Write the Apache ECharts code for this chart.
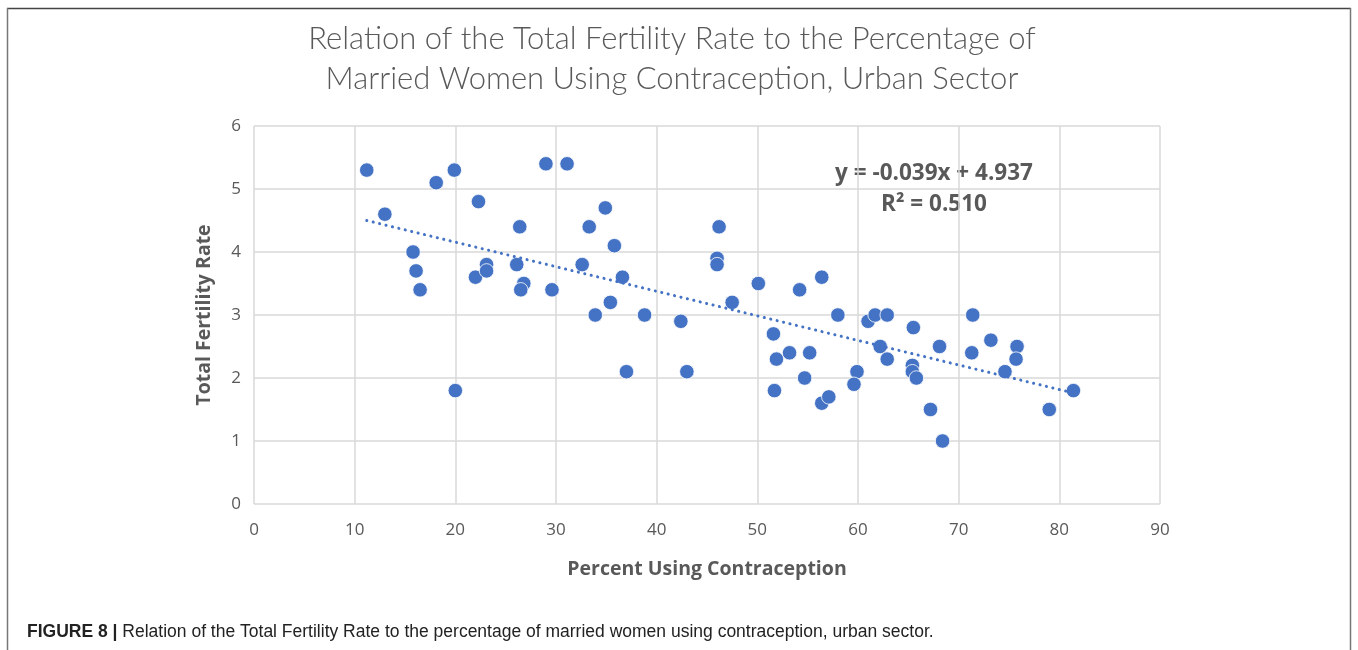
<!DOCTYPE html>
<html>
<head>
<meta charset="utf-8">
<script src="https://cdn.jsdelivr.net/npm/echarts@6/dist/echarts.min.js"></script>
<style>
html,body{margin:0;padding:0;background:#fff;}
#c{width:1358px;height:650px;}
</style>
</head>
<body>
<div id="c"></div>
<script>
// Data (x: percent using contraception, y: total fertility rate)
const contraceptionPct = [
  11.2, 13.0, 15.8, 16.1, 16.5, 18.1, 19.9, 20.0, 22.3, 22.0,
  23.1, 23.1, 26.4, 26.1, 26.8, 26.5, 29.0, 31.1, 29.6, 34.9,
  33.3, 32.6, 35.8, 36.6, 35.4, 33.9, 38.8, 37.0, 42.4, 43.0,
  46.2, 46.0, 46.0, 47.5, 50.1, 51.6, 51.9, 51.7, 53.2, 54.2,
  55.2, 54.7, 56.4, 56.4, 57.1, 58.0, 59.9, 59.6, 61.0, 61.7,
  62.9, 62.2, 62.9, 65.5, 65.4, 65.4, 65.8, 67.2, 68.4, 68.1,
  71.4, 71.3, 73.2, 75.8, 75.7, 74.6, 79.0, 81.4
];
const fertilityRate = [
  5.3, 4.6, 4.0, 3.7, 3.4, 5.1, 5.3, 1.8, 4.8, 3.6,
  3.8, 3.7, 4.4, 3.8, 3.5, 3.4, 5.4, 5.4, 3.4, 4.7,
  4.4, 3.8, 4.1, 3.6, 3.2, 3.0, 3.0, 2.1, 2.9, 2.1,
  4.4, 3.9, 3.8, 3.2, 3.5, 2.7, 2.3, 1.8, 2.4, 3.4,
  2.4, 2.0, 3.6, 1.6, 1.7, 3.0, 2.1, 1.9, 2.9, 3.0,
  3.0, 2.5, 2.3, 2.8, 2.2, 2.1, 2.0, 1.5, 1.0, 2.5,
  3.0, 2.4, 2.6, 2.5, 2.3, 2.1, 1.5, 1.8
];
const xTicks = [0, 10, 20, 30, 40, 50, 60, 70, 80, 90];
const yTicks = [0, 1, 2, 3, 4, 5, 6];
const trendSlope = -0.039;
const trendIntercept = 4.937;
const trendRange = [11.2, 81.4];
const equationText = 'y = -0.039x + 4.937';
const r2Text = 'R² = 0.510';

const points = contraceptionPct.map((x, i) => [x, fertilityRate[i]]);
const trend = trendRange.map(x => [x, trendSlope * x + trendIntercept]);

const grey = '#595959';
const chart = echarts.init(document.getElementById('c'));
chart.setOption({
  animation: false,
  backgroundColor: '#fff',
  title: [
    {
      text: 'Relation of the Total Fertility Rate to the Percentage of\nMarried Women Using Contraception, Urban Sector',
      left: 667, top: 14, textAlign: 'center',
      textStyle: { fontFamily: 'Lato', fontWeight: 300, fontSize: 31, color: grey, lineHeight: 40 }
    },
    {
      text: '{b|FIGURE 8 |} Relation of the Total Fertility Rate to the percentage of married women using contraception, urban sector.',
      left: 22, top: 618,
      textStyle: {
        fontFamily: 'Liberation Sans', fontSize: 17.5, color: '#222', fontWeight: 'normal',
        rich: { b: { fontFamily: 'Liberation Sans', fontSize: 17.5, fontWeight: 'bold', color: '#222' } }
      }
    }
  ],
  graphic: [
    { type: 'line', shape: { x1: 7, y1: 8.5, x2: 1351, y2: 8.5 }, style: { stroke: '#444', lineWidth: 1.5 } },
    { type: 'line', shape: { x1: 7.5, y1: 8, x2: 7.5, y2: 650 }, style: { stroke: '#777', lineWidth: 1.5 } },
    { type: 'line', shape: { x1: 1350.5, y1: 8, x2: 1350.5, y2: 650 }, style: { stroke: '#777', lineWidth: 1.5 } },
    { type: 'text', x: 934, y: 174, style: { text: equationText, fontFamily: 'Open Sans', fontWeight: 'bold', fontSize: 22.5, fill: grey, align: 'center', verticalAlign: 'middle' } },
    { type: 'text', x: 934, y: 205, style: { text: r2Text, fontFamily: 'Open Sans', fontWeight: 'bold', fontSize: 22.5, fill: grey, align: 'center', verticalAlign: 'middle' } }
  ],
  grid: { left: 254, right: 198, top: 126, bottom: 146, containLabel: false },
  xAxis: {
    type: 'value', min: xTicks[0], max: xTicks[xTicks.length - 1], interval: 10,
    name: 'Percent Using Contraception', nameLocation: 'middle', nameGap: 55,
    nameTextStyle: { fontFamily: 'Open Sans', fontWeight: 'bold', fontSize: 19.5, color: grey },
    axisLine: { show: false }, axisTick: { show: false },
    axisLabel: { fontFamily: 'Open Sans', fontSize: 17, color: grey, margin: 18 },
    splitLine: { show: true, lineStyle: { color: '#d9d9d9', width: 1.5 } }
  },
  yAxis: {
    type: 'value', min: yTicks[0], max: yTicks[yTicks.length - 1], interval: 1,
    name: 'Total Fertility Rate', nameLocation: 'middle', nameGap: 40, nameRotate: 90,
    nameTextStyle: { fontFamily: 'Open Sans', fontWeight: 'bold', fontSize: 19.5, color: grey },
    axisLine: { show: false }, axisTick: { show: false },
    axisLabel: { fontFamily: 'Open Sans', fontSize: 17, color: grey, margin: 13 },
    splitLine: { show: true, lineStyle: { color: '#d9d9d9', width: 1.5 } }
  },
  series: [
    {
      type: 'scatter', data: points, symbolSize: 14.5,
      itemStyle: { color: '#4472C4', opacity: 1, borderColor: '#fff', borderWidth: 0.8 }, z: 3
    },
    {
      type: 'line', data: trend, symbol: 'none', silent: true, z: 4,
      lineStyle: { color: '#4472C4', width: 3, type: [0.1, 6.5], cap: 'round' }
    }
  ]
});
</script>
</body>
</html>
